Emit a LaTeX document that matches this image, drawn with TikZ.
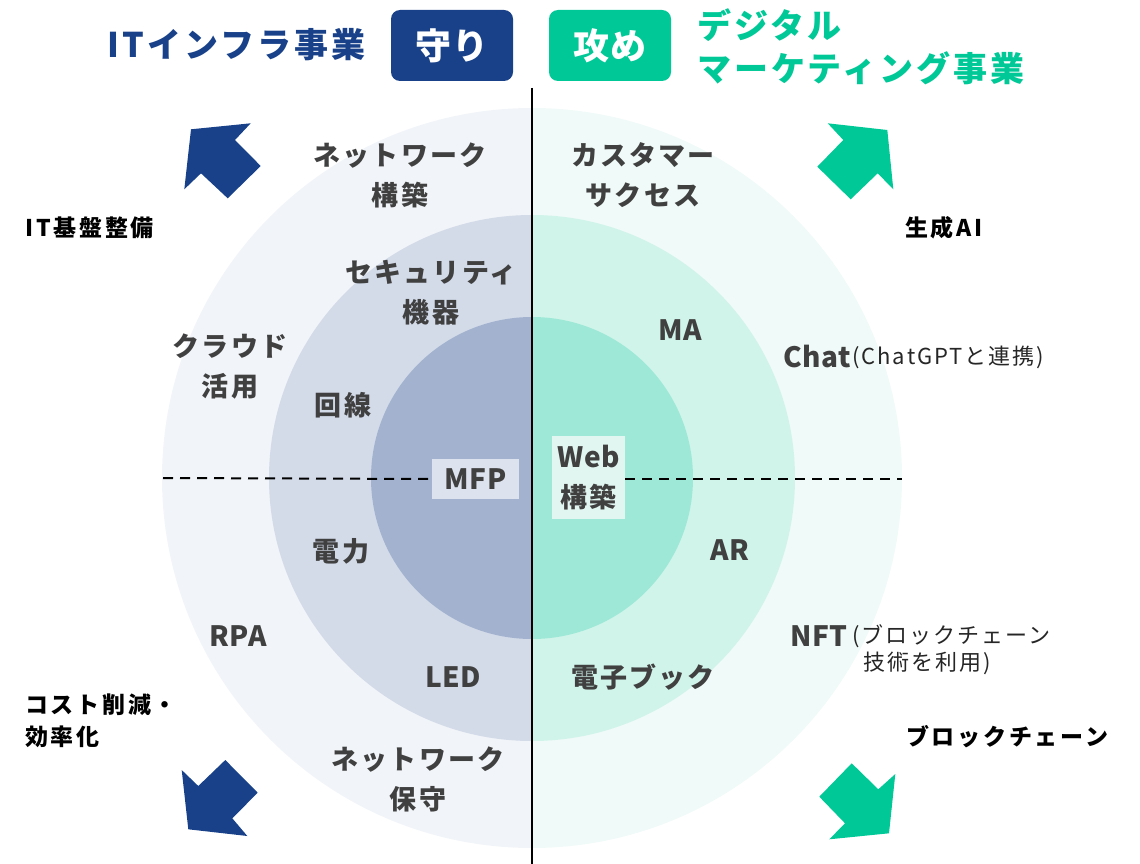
\documentclass[tikz,border=0pt]{standalone}
\usepackage{fontspec}
\setmainfont{Noto Sans CJK JP}
\definecolor{tblue}{HTML}{184189}
\definecolor{tgreen}{HTML}{00C896}
\definecolor{lo}{HTML}{F1F4F8}
\definecolor{lm}{HTML}{D3DBE9}
\definecolor{li}{HTML}{A3B3CF}
\definecolor{ro}{HTML}{F0FAF8}
\definecolor{rm}{HTML}{D0F4EA}
\definecolor{ri}{HTML}{9EE8D7}
\definecolor{lblbox}{HTML}{DDE3EE}
\definecolor{rblbox}{HTML}{E2F6F1}
\definecolor{lblc}{HTML}{404040}
\newcommand\lblfont{\fontsize{27}{40}\selectfont\bfseries\addfontfeatures{LetterSpace=8}}
\newcommand\latfont{\fontsize{28}{40}\selectfont\bfseries\addfontfeatures{LetterSpace=2}}
\newcommand\sidefont{\fontsize{23}{32}\selectfont\bfseries\addfontfeatures{LetterSpace=12}}
\newcommand\parenfont{\fontsize{22}{27}\selectfont\addfontfeatures{LetterSpace=9}}
\newcommand\titlefont{\fontsize{34}{43}\selectfont\bfseries\addfontfeatures{LetterSpace=9}}
\newcommand\boxfont{\fontsize{36}{40}\selectfont\bfseries\addfontfeatures{LetterSpace=4}}
\begin{document}
\begin{tikzpicture}[x=1pt,y=-1pt,
  lbl/.style={inner sep=0pt,text=lblc,align=center,font=\lblfont},
  lat/.style={inner sep=0pt,text=lblc,align=center,font=\latfont},
  side/.style={inner sep=0pt,text=black,align=left,font=\sidefont},
  paren/.style={inner sep=0pt,text=black!85,align=left,font=\parenfont},
  tagbox/.style={rounded corners=9pt,minimum width=122pt,minimum height=71pt,inner sep=0pt,text=white,font=\boxfont},
  dashln/.style={line width=2pt,dash pattern=on 10pt off 7pt},
  bluearrow/.style={fill=tblue,draw=none},
  greenarrow/.style={fill=tgreen,draw=none}]
\useasboundingbox (0,0) rectangle (1140,864);
\coordinate (c) at (532,478);
% circles (y axis points down: angle -90 is the top)
\fill[lo] (532,108) arc[start angle=-90,end angle=-270,radius=370] -- cycle;
\fill[ro] (532,108) arc[start angle=-90,end angle=90,radius=370] -- cycle;
\fill[lm] (532,215) arc[start angle=-90,end angle=-270,radius=263] -- cycle;
\fill[rm] (532,215) arc[start angle=-90,end angle=90,radius=263] -- cycle;
\fill[li] (532,317) arc[start angle=-90,end angle=-270,radius=161] -- cycle;
\fill[ri] (532,317) arc[start angle=-90,end angle=90,radius=161] -- cycle;
% center boxes
\node[fill=lblbox,minimum width=87pt,minimum height=40pt,inner sep=0pt,text=lblc,font=\latfont] (mfp) at (475.5,479) {MFP};
\node[fill=rblbox,minimum width=73pt,minimum height=83pt,inner sep=0pt,text=lblc,align=center,font=\lblfont] (web) at (588.5,477.5) {{\latfont Web}\\構築};
\coordinate (dl) at (163,478);
\coordinate (dr) at (902,479);
\draw[dashln] (dl) -- (mfp.west);
\draw[dashln] (web.east |- dr) -- (dr);
% vertical line
\coordinate (vt) at (532,88);
\coordinate (vb) at (532,864);
\draw[line width=2.5pt] (vt) -- (vb);
% titles
\node[inner sep=0pt,text=tblue,font=\titlefont,anchor=east] (tl) at (366,45) {ITインフラ事業};
\node[tagbox,fill=tblue] (mamori) at (452,45.5) {守り};
\node[tagbox,fill=tgreen] (seme) at (610,45.5) {攻め};
\node[inner sep=0pt,text=tgreen,font=\titlefont,anchor=west,align=left] (tr) at (697,47) {デジタル\\マーケティング事業};
% arrows
\fill[bluearrow] (191,129.3) -- (250.7,123.3) -- (235,140) -- (260.7,166) -- (227.7,198.3) -- (201,173.3) -- (184.3,189.3) -- cycle;
\fill[greenarrow] (827.7,123.3) -- (887.3,130) -- (893.3,189.3) -- (877.7,173.3) -- (850.7,199.3) -- (817.3,166.7) -- (843.3,140) -- cycle;
\fill[bluearrow] (181.7,770) -- (198.3,786) -- (225.3,760) -- (257.7,792.7) -- (232.3,818.3) -- (247.3,836) -- (188.3,829.3) -- cycle;
\fill[greenarrow] (895.3,774) -- (889,833.3) -- (829.3,839.3) -- (845,823.3) -- (819.3,796.7) -- (851.7,763.3) -- (878.3,789.3) -- cycle;
% side labels
\node[side,anchor=west] (kiban) at (25,228) {IT基盤整備};
\node[side,anchor=west] (seisei) at (905,228) {生成AI};
\node[side,anchor=west] (cost) at (25,721) {コスト削減・\\効率化};
\node[side,anchor=west] (block) at (906,737) {ブロックチェーン};
% left labels
\node[lbl] (nw1) at (400,175) {ネットワーク\\構築};
\node[lbl] (sec) at (431,293) {セキュリティ\\機器};
\node[lbl] (cloud) at (230,367) {クラウド\\活用};
\node[lbl] (kaisen) at (343,405) {回線};
\node[lbl] (denryoku) at (341,551) {電力};
\node[lat] (rpa) at (238,636) {RPA};
\node[lat] (led) at (453,677) {LED};
\node[lbl] (nw2) at (418,779) {ネットワーク\\保守};
% right labels
\node[lbl] (cs) at (643,175) {カスタマー\\サクセス};
\node[lat] (ma) at (680,330) {MA};
\node[lat,anchor=east] (chat) at (851,357) {Chat};
\node[paren,anchor=west] (chatp) at (852,357) {(ChatGPTと連携)};
\node[lat] (ar) at (730,550) {AR};
\node[lbl] (ebook) at (643,677) {電子ブック};
\node[lat,anchor=east] (nft) at (848,636) {NFT};
\node[paren,anchor=west] (nftp1) at (852,636) {(ブロックチェーン};
\node[paren,anchor=west] (nftp2) at (863,663) {技術を利用)};
\end{tikzpicture}
\end{document}
